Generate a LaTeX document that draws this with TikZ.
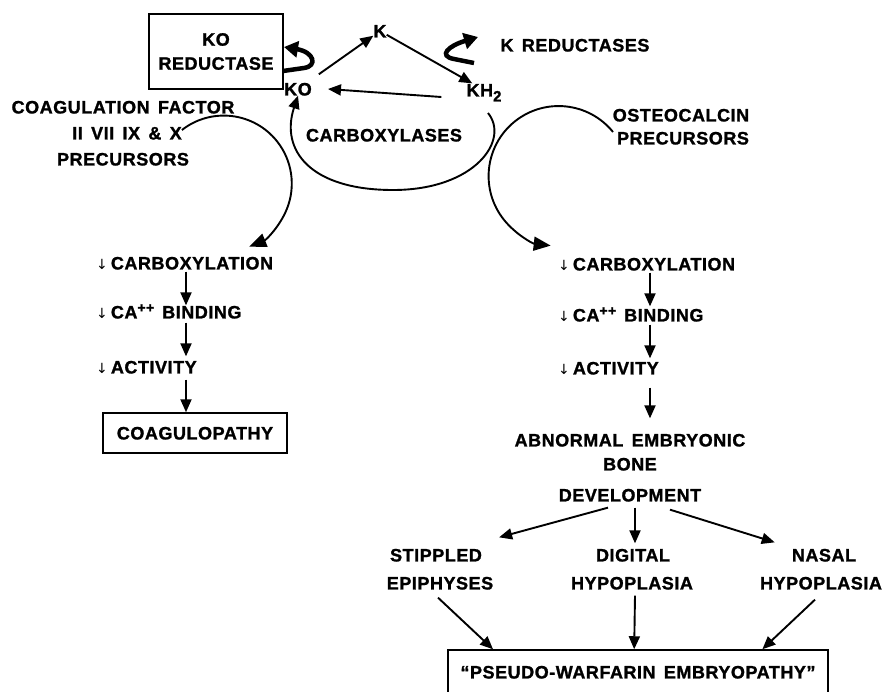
\documentclass[tikz,border=0pt]{standalone}
\usepackage{fontspec}
\setmainfont{Liberation Sans}[LetterSpace=3,WordSpace=1.5,BoldFeatures={FakeBold=1.3}]
\newfontfamily\symfont{DejaVu Sans}
\usetikzlibrary{arrows.meta,calc}
\newcommand\dfont{\fontsize{18}{24}\selectfont\bfseries}
\newcommand\dn{{\symfont\mdseries\fontsize{14}{14}\selectfont ↓}\hspace{3pt}}
\newcommand\plusplus{\raisebox{6pt}{\fontsize{14}{14}\selectfont ++}}
\begin{document}
\begin{tikzpicture}[x=1pt,y=-1pt,
  every node/.style={font=\dfont, inner sep=0pt},
  txt/.style={text height=12.9pt, text depth=0pt},
  boxnode/.style={draw, line width=1.5pt},
  arr/.style={line width=1.9pt, -{Triangle[length=13pt,width=11pt]}},
  bigarr/.style={line width=1.9pt, -{Triangle[length=17pt,width=14pt]}},
  hookarr/.style={line width=4.5pt, -{Triangle[length=14pt,width=16pt]}},
]
\useasboundingbox (0,0) rectangle (886,691);
\fill[white] (0,0) rectangle (886,691);

% top cycle
\node[boxnode, align=center, minimum width=134pt, minimum height=75pt] (kored) at (216,51.5) {KO\\REDUCTASE};
\node[txt] (K) at (380,31) {K};
\node[txt] (KO) at (298,89) {KO};
\node[txt] (KH) at (484,90) {KH\raisebox{-5pt}{\fontsize{15}{15}\selectfont 2}};
\node[txt] (kred) at (575,45) {K REDUCTASES};
\node[txt] (carbx) at (384,135) {CARBOXYLASES};

\draw[arr, shorten <=14pt] (KO) -- (K);
\draw[arr] (K) -- (KH);
\draw[arr] ([shift={(-25,7)}]KH.west) -- ([xshift=16pt]KO.east);
\coordinate (loopS) at (488,113);
\draw[arr] (loopS) .. controls (510,140) and (475,190) .. (393,190) .. controls (310,190) and (280,150) .. (KO.south);

\draw[hookarr] (283,71) -- (304,68) .. controls (318,66) and (314,52) .. (284,47);
\draw[hookarr] (474,63) -- (454,59) .. controls (438,56) and (448,46) .. (478,37);

% precursors
\node[txt] (coag1) at (123,107) {COAGULATION FACTOR};
\node[txt] (coag2) at (127,133) {II VII IX \& X};
\node[txt] (coag3) at (123,159) {PRECURSORS};
\node[txt] (ost1) at (681,115) {OSTEOCALCIN};
\node[txt] (ost2) at (683,138) {PRECURSORS};

\draw[bigarr] ([yshift=3pt]coag2.east) arc[start angle=-128, end angle=68, radius=68];
\coordinate (ostS) at (613,132);
\draw[bigarr] (ostS) arc[start angle=-39, end angle=-263.5, radius=70];

% left column
\coordinate (colL) at (186,0);
\node[txt, anchor=west] (carbL) at (96,263) {\dn CARBOXYLATION};
\node[txt, anchor=west] (bindL) at (96,312) {\dn CA\plusplus\hspace{8pt}BINDING};
\node[txt, anchor=west] (actL) at (96,367) {\dn ACTIVITY};
\node[boxnode, txt, minimum width=184pt, minimum height=40pt] (coagp) at (195,433) {COAGULOPATHY};
\draw[arr, shorten <=2pt] (carbL.south -| colL) -- (bindL.north -| colL);
\draw[arr, shorten <=4pt, shorten >=4pt] (bindL.south -| colL) -- (actL.north -| colL);
\draw[arr, shorten <=6pt] (actL.south -| colL) -- (coagp.north -| colL);

% right column
\coordinate (colR) at (650,0);
\node[txt, anchor=west] (carbR) at (558,264) {\dn CARBOXYLATION};
\node[txt, anchor=west] (bindR) at (558,315) {\dn CA\plusplus\hspace{8pt}BINDING};
\node[txt, anchor=west] (actR) at (558,368) {\dn ACTIVITY};
\node[txt] (abn1) at (630,440) {ABNORMAL EMBRYONIC};
\node[txt] (abn2) at (630,464) {BONE};
\node[txt] (abn3) at (630,495) {DEVELOPMENT};
\draw[arr, shorten <=2pt, shorten >=2pt] (carbR.south -| colR) -- (bindR.north -| colR);
\draw[arr, shorten <=3pt, shorten >=3pt] (bindR.south -| colR) -- (actR.north -| colR);
\draw[arr, shorten <=13pt, shorten >=15pt] (actR.south -| colR) -- (abn1.north -| colR);

% bottom
\node[txt] (stip1) at (436,555) {STIPPLED};
\node[txt] (stip2) at (440,583) {EPIPHYSES};
\node[txt] (dig1) at (633,555) {DIGITAL};
\node[txt] (dig2) at (632,583) {HYPOPLASIA};
\node[txt] (nas1) at (824,555) {NASAL};
\node[txt] (nas2) at (821,583) {HYPOPLASIA};
\node[boxnode, txt, minimum width=380pt, minimum height=44pt] (pseudo) at (638,672) {“PSEUDO-WARFARIN EMBRYOPATHY”};

\draw[arr] ([shift={(-22,6)}]abn3.south) -- ([shift={(17,-11)}]stip1.north east);
\draw[arr, shorten >=5pt] ([shift={(5,6)}]abn3.south) -- ([xshift=2pt]dig1.north);
\draw[arr] ([shift={(40,8)}]abn3.south) -- ([shift={(-17,-6)}]nas1.north west);

\draw[arr] ([shift={(-2,8)}]stip2.south) -- ($(pseudo.north west)!0.12!(pseudo.north east)$);
\draw[arr] ([shift={(3,6)}]dig2.south) -- ($(pseudo.north west)!0.49!(pseudo.north east)$);
\draw[arr] ([shift={(-6,10)}]nas2.south) -- ($(pseudo.north west)!0.826!(pseudo.north east)$);
\end{tikzpicture}
\end{document}
